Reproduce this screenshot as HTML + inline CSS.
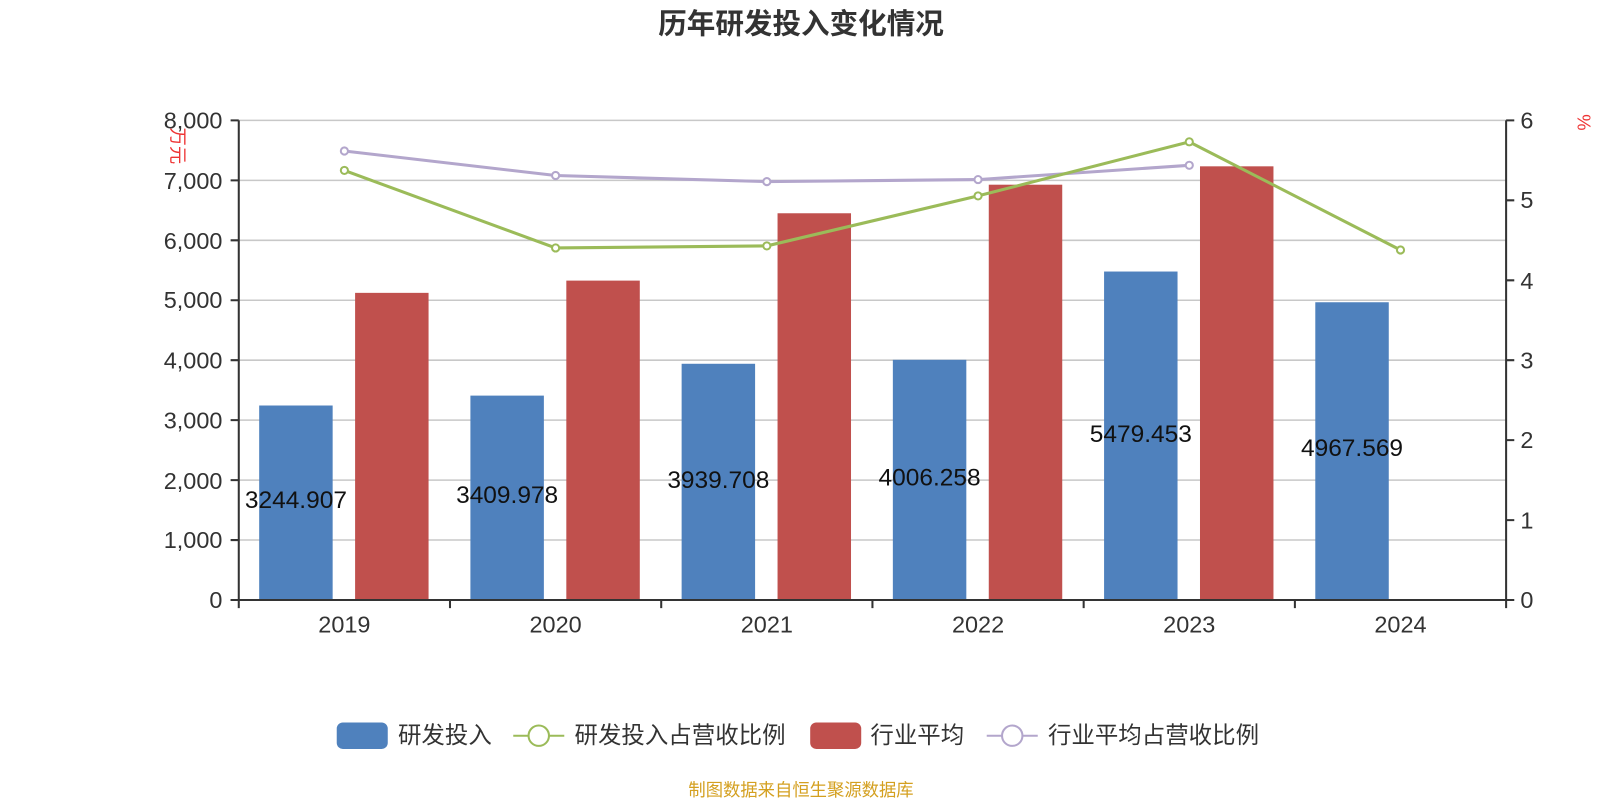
<!DOCTYPE html><html><head><meta charset="utf-8"><style>body{margin:0;background:#fff}svg{display:block}text{font-family:"Liberation Sans","Noto Sans CJK SC",sans-serif}</style></head><body>
<svg width="1600" height="800" xmlns="http://www.w3.org/2000/svg">
<rect width="1600" height="800" fill="#fff"/>
<g transform="scale(1.0204)">
<text x="785" y="33" font-size="28" font-weight="bold" fill="#333" text-anchor="middle">历年研发投入变化情况</text>
<g stroke="#c8c8c8" stroke-width="1.5">
<line x1="234" x2="1476" y1="118" y2="118"/><line x1="234" x2="1476" y1="176.75" y2="176.75"/><line x1="234" x2="1476" y1="235.5" y2="235.5"/><line x1="234" x2="1476" y1="294.25" y2="294.25"/><line x1="234" x2="1476" y1="353" y2="353"/><line x1="234" x2="1476" y1="411.75" y2="411.75"/><line x1="234" x2="1476" y1="470.5" y2="470.5"/><line x1="234" x2="1476" y1="529.25" y2="529.25"/>
</g>
<g fill="#4f81bd">
<rect x="254" y="397.4" width="72" height="190.6"/><rect x="461" y="387.7" width="72" height="200.3"/><rect x="668" y="356.5" width="72" height="231.5"/><rect x="875" y="352.6" width="72" height="235.4"/><rect x="1082" y="266.1" width="72" height="321.9"/><rect x="1289" y="296.2" width="72" height="291.8"/>
</g>
<g fill="#c0504d">
<rect x="348" y="287" width="72" height="301"/><rect x="555" y="275" width="72" height="313"/><rect x="762" y="209" width="72" height="379"/><rect x="969" y="181" width="72" height="407"/><rect x="1176" y="163" width="72" height="425"/>
</g>
<g stroke="#333" stroke-width="2" fill="none">
<line x1="234" y1="118" x2="234" y2="596"/><line x1="1476" y1="118" x2="1476" y2="596"/><line x1="226" y1="588" x2="1476" y2="588"/>
<path d="M226 118H234M226 176.75H234M226 235.5H234M226 294.25H234M226 353H234M226 411.75H234M226 470.5H234M226 529.25H234M226 588H234"/>
<path d="M1476 118H1484M1476 196.3H1484M1476 274.7H1484M1476 353H1484M1476 431.3H1484M1476 509.7H1484M1476 588H1484"/>
<path d="M441 588V596M648 588V596M855 588V596M1062 588V596M1269 588V596"/>
</g>
<g font-size="23" fill="#333" text-anchor="end">
<text x="218" y="126">8,000</text><text x="218" y="185">7,000</text><text x="218" y="244">6,000</text><text x="218" y="302">5,000</text><text x="218" y="361">4,000</text><text x="218" y="420">3,000</text><text x="218" y="479">2,000</text><text x="218" y="537">1,000</text><text x="218" y="596">0</text>
</g>
<g font-size="23" fill="#333">
<text x="1490" y="126">6</text><text x="1490" y="204">5</text><text x="1490" y="283">4</text><text x="1490" y="361">3</text><text x="1490" y="439">2</text><text x="1490" y="518">1</text><text x="1490" y="596">0</text>
</g>
<g font-size="23" fill="#333" text-anchor="middle">
<text x="337.5" y="620">2019</text><text x="544.5" y="620">2020</text><text x="751.5" y="620">2021</text><text x="958.5" y="620">2022</text><text x="1165.5" y="620">2023</text><text x="1372.5" y="620">2024</text>
</g>
<text transform="translate(168,143) rotate(90)" font-size="18" fill="#e33" text-anchor="middle">万元</text>
<text transform="translate(1546,120) rotate(90)" font-size="18" fill="#e33" text-anchor="middle">%</text>
<polyline points="337.5,148 544.5,172 751.5,178 958.5,176 1165.5,162" fill="none" stroke="#b3a6cc" stroke-width="3"/>
<g fill="#fff" stroke="#b3a6cc" stroke-width="2"><circle cx="337.5" cy="148" r="3.5"/><circle cx="544.5" cy="172" r="3.5"/><circle cx="751.5" cy="178" r="3.5"/><circle cx="958.5" cy="176" r="3.5"/><circle cx="1165.5" cy="162" r="3.5"/></g>
<polyline points="337.5,167 544.5,243 751.5,241 958.5,192 1165.5,139 1372.5,245" fill="none" stroke="#9bbb59" stroke-width="3"/>
<g fill="#fff" stroke="#9bbb59" stroke-width="2"><circle cx="337.5" cy="167" r="3.5"/><circle cx="544.5" cy="243" r="3.5"/><circle cx="751.5" cy="241" r="3.5"/><circle cx="958.5" cy="192" r="3.5"/><circle cx="1165.5" cy="139" r="3.5"/><circle cx="1372.5" cy="245" r="3.5"/></g>
<g font-size="24" fill="#111" text-anchor="middle">
<text x="290" y="498">3244.907</text><text x="497" y="493">3409.978</text><text x="704" y="478">3939.708</text><text x="911" y="476">4006.258</text><text x="1118" y="433">5479.453</text><text x="1325" y="447">4967.569</text>
</g>
<g font-size="23" fill="#333">
<rect x="330" y="708" width="50" height="26" rx="6" fill="#4f81bd"/><text x="390" y="728">研发投入</text>
<line x1="503" y1="721" x2="553" y2="721" stroke="#9bbb59" stroke-width="2"/><circle cx="528" cy="721" r="10" fill="#fff" stroke="#9bbb59" stroke-width="2"/><text x="563" y="728">研发投入占营收比例</text>
<rect x="794" y="708" width="50" height="26" rx="6" fill="#c0504d"/><text x="853" y="728">行业平均</text>
<line x1="967" y1="721" x2="1017" y2="721" stroke="#b3a6cc" stroke-width="2"/><circle cx="992" cy="721" r="10" fill="#fff" stroke="#b3a6cc" stroke-width="2"/><text x="1027" y="728">行业平均占营收比例</text>
</g>
<text x="785" y="780" font-size="17" fill="#d4a020" text-anchor="middle">制图数据来自恒生聚源数据库</text>
</g>
</svg></body></html>
